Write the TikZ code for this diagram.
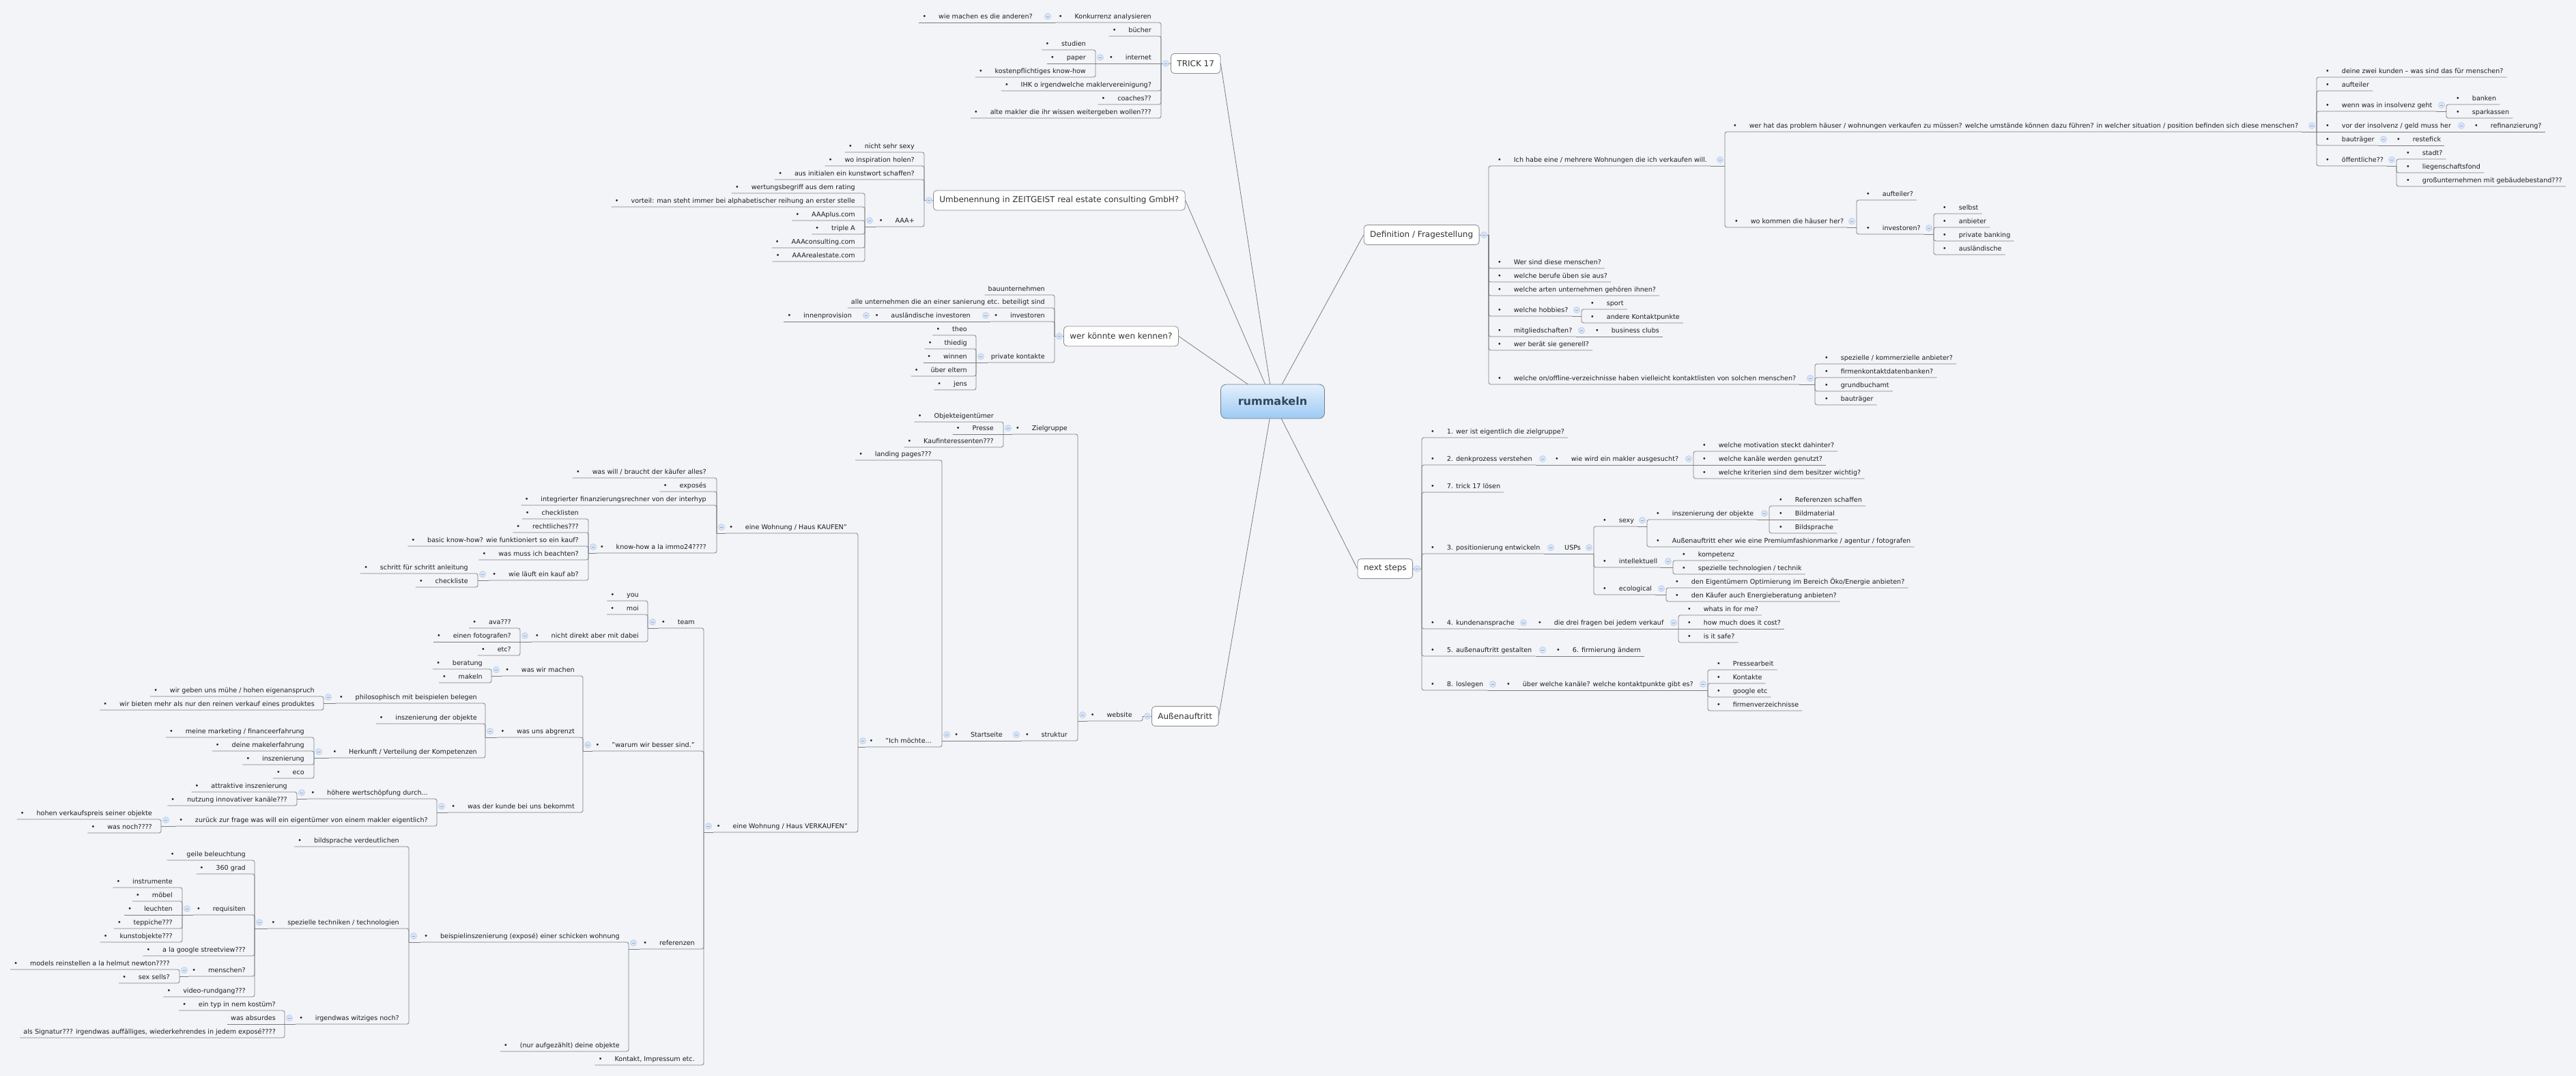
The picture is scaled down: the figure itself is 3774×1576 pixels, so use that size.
\documentclass[tikz,border=0pt]{standalone}
\usepackage{fontspec}
\setmainfont{DejaVu Sans}
\definecolor{paper}{HTML}{F2F4F8}
\definecolor{linegray}{HTML}{7D7D7D}
\definecolor{boxline}{HTML}{8A8A8A}
\definecolor{boxtext}{HTML}{333333}
\definecolor{itemtext}{HTML}{1E1E1E}
\definecolor{foldfill}{HTML}{D9E5F6}
\definecolor{foldline}{HTML}{B3C9E9}
\definecolor{foldmark}{HTML}{8AA7D6}
\definecolor{roottop}{HTML}{E4F0FC}
\definecolor{rootbottom}{HTML}{9CCAF4}
\definecolor{rootline}{HTML}{6F7F8F}
\definecolor{roottext}{HTML}{34465A}
\begin{document}
\begin{tikzpicture}[x=1pt, y=-1pt,
  spoke/.style={draw=linegray, line width=0.8pt},
  branch/.style={draw=linegray, line width=0.8pt, rounded corners=3pt},
  topic/.style={draw=boxline, fill=white, line width=0.8pt, rounded corners=5pt, font=\fontsize{12}{14}\selectfont, text=boxtext, minimum height=29pt, inner xsep=9pt},
  roottopic/.style={draw=rootline, line width=0.8pt, rounded corners=8pt, top color=roottop, bottom color=rootbottom, minimum width=152pt, minimum height=50pt, font=\fontsize{16}{19}\selectfont\bfseries, text=roottext},
  txt/.style={font=\fontsize{9.6}{11}\selectfont, text=itemtext, inner xsep=5pt, inner ysep=3pt, text height=7.5pt, text depth=2.5pt},
  bul/.style={txt, execute at begin node={\textbullet\hspace{18pt}}},
  litem/.style={bul, anchor=south east},
  ritem/.style={bul, anchor=south west},
  lplain/.style={txt, anchor=south east},
  rplain/.style={txt, anchor=south west},
  fold/.style={fill=foldfill, draw=foldline, line width=0.6pt},
  foldbar/.style={draw=foldmark, line width=0.8pt}]
  \fill[paper] (0,0) rectangle (3774,1576);
  \useasboundingbox (0,0) rectangle (3774,1576);

  \node[topic, anchor=west] (trick) at (1715,93) {TRICK 17};
  \node[topic, anchor=west] (umb) at (1367,293.5) {Umbenennung in ZEITGEIST real estate consulting GmbH?};
  \node[topic, anchor=west] (wer) at (1558,492.5) {wer könnte wen kennen?};
  \node[topic, anchor=west] (ausen) at (1687,1049) {Außenauftritt};
  \node[topic, anchor=east] (defi) at (2167.5,344) {Definition / Fragestellung};
  \node[topic, anchor=east] (next) at (2070,833) {next steps};
  \draw[spoke] (trick.east) -- (1864.5,588);
  \draw[spoke] (umb.east) -- (1864.5,588);
  \draw[spoke] (wer.east) -- (1864.5,588);
  \draw[spoke] (ausen.east) -- (1864.5,588);
  \draw[spoke] (defi.west) -- (1864.5,588);
  \draw[spoke] (next.west) -- (1864.5,588);
  \node[roottopic] (root) at (1864.5,588) {rummakeln};

  \node[litem] (konk) at (1692,33) {Konkurrenz analysieren};
  \node[litem] (andere) at (1518,33) {wie machen es die anderen?};
  \node[litem] (buecher) at (1692,53) {bücher};
  \node[litem] (internet) at (1692,93) {internet};
  \node[litem] (studien) at (1596,73) {studien};
  \node[litem] (paper) at (1596,93) {paper};
  \node[litem] (kosten) at (1596,113) {kostenpflichtiges know-how};
  \node[litem] (ihk) at (1692,133) {IHK o irgendwelche maklervereinigung?};
  \node[litem] (coaches) at (1692,153) {coaches??};
  \node[litem] (altemakler) at (1692,173) {alte makler die ihr wissen weitergeben wollen???};

  \node[litem] (sexy) at (1345,223) {nicht sehr sexy};
  \node[litem] (inspiration) at (1345,243) {wo inspiration holen?};
  \node[litem] (kunstwort) at (1345,263) {aus initialen ein kunstwort schaffen?};
  \node[litem] (aaa) at (1345,332) {AAA+};
  \node[litem] (wertung) at (1258,283) {wertungsbegriff aus dem rating};
  \node[litem] (vorteil) at (1258,303) {vorteil: man steht immer bei alphabetischer reihung an erster stelle};
  \node[litem] (aaaplus) at (1258,323) {AAAplus.com};
  \node[litem] (triplea) at (1258,343) {triple A};
  \node[litem] (aaacons) at (1258,363) {AAAconsulting.com};
  \node[litem] (aaareal) at (1258,383) {AAArealestate.com};

  \node[lplain] (bau) at (1536,432) {bauunternehmen};
  \node[lplain] (alle) at (1536,451) {alle unternehmen die an einer sanierung etc. beteiligt sind};
  \node[litem] (investoren) at (1536,471) {investoren};
  \node[litem] (auslinv) at (1427,471) {ausländische investoren};
  \node[litem] (innen) at (1253,471) {innenprovision};
  \node[lplain] (private) at (1536,531) {private kontakte};
  \node[litem] (theo) at (1422,491) {theo};
  \node[litem] (thiedig) at (1422,511) {thiedig};
  \node[litem] (winnen) at (1422,531) {winnen};
  \node[litem] (ueber) at (1422,551) {über eltern};
  \node[litem] (jens) at (1422,571) {jens};

  \node[ritem] (ichhabe) at (2189,243) {Ich habe eine / mehrere Wohnungen die ich verkaufen will.};
  \node[ritem] (werhat) at (2534,193) {wer hat das problem häuser / wohnungen verkaufen zu müssen? welche umstände können dazu führen? in welcher situation / position befinden sich diese menschen?};
  \node[ritem] (zwei) at (3402,113) {deine zwei kunden -- was sind das für menschen?};
  \node[ritem] (aufteiler) at (3402,133) {aufteiler};
  \node[ritem] (wenn) at (3402,163) {wenn was in insolvenz geht};
  \node[ritem] (banken) at (3593,153) {banken};
  \node[ritem] (sparkassen) at (3593,173) {sparkassen};
  \node[ritem] (vor) at (3402,193) {vor der insolvenz / geld muss her};
  \node[ritem] (refinanz) at (3620,193) {refinanzierung?};
  \node[ritem] (bautraegerA) at (3402,213) {bauträger};
  \node[ritem] (restefick) at (3506,213) {restefick};
  \node[ritem] (oeff) at (3402,243) {öffentliche??};
  \node[ritem] (stadt) at (3520,233) {stadt?};
  \node[ritem] (liegen) at (3520,253) {liegenschaftsfond};
  \node[ritem] (gross) at (3520,273) {großunternehmen mit gebäudebestand???};
  \node[ritem] (wokommen) at (2536,333) {wo kommen die häuser her?};
  \node[ritem] (aufteilerB) at (2729,293) {aufteiler?};
  \node[ritem] (investorenB) at (2729,343) {investoren?};
  \node[ritem] (selbst) at (2841,313) {selbst};
  \node[ritem] (anbieter) at (2841,333) {anbieter};
  \node[ritem] (privbank) at (2841,353) {private banking};
  \node[ritem] (auslaendisch) at (2841,373) {ausländische};
  \node[ritem] (wersind) at (2189,393) {Wer sind diese menschen?};
  \node[ritem] (berufe) at (2189,413) {welche berufe üben sie aus?};
  \node[ritem] (arten) at (2189,433) {welche arten unternehmen gehören ihnen?};
  \node[ritem] (hobbies) at (2189,463) {welche hobbies?};
  \node[ritem] (sport) at (2325,453) {sport};
  \node[ritem] (kontaktpunkte) at (2325,473) {andere Kontaktpunkte};
  \node[ritem] (mitglied) at (2189,493) {mitgliedschaften?};
  \node[ritem] (clubs) at (2332,493) {business clubs};
  \node[ritem] (beraet) at (2189,513) {wer berät sie generell?};
  \node[ritem] (verzeichnis) at (2189,563) {welche on/offline-verzeichnisse haben vielleicht kontaktlisten von solchen menschen?};
  \node[ritem] (kommerziell) at (2668,533) {spezielle / kommerzielle anbieter?};
  \node[ritem] (datenbanken) at (2668,553) {firmenkontaktdatenbanken?};
  \node[ritem] (grundbuch) at (2668,573) {grundbuchamt};
  \node[ritem] (bautraegerB) at (2668,593) {bauträger};

  \node[ritem] (eins) at (2091,641) {1. wer ist eigentlich die zielgruppe?};
  \node[ritem] (zweiN) at (2091,681) {2. denkprozess verstehen};
  \node[ritem] (makler) at (2273,681) {wie wird ein makler ausgesucht?};
  \node[ritem] (motivation) at (2489,661) {welche motivation steckt dahinter?};
  \node[ritem] (kanaele) at (2489,681) {welche kanäle werden genutzt?};
  \node[ritem] (kriterien) at (2489,701) {welche kriterien sind dem besitzer wichtig?};
  \node[ritem] (sieben) at (2091,721) {7. trick 17 lösen};
  \node[ritem] (dreiN) at (2091,811) {3. positionierung entwickeln};
  \node[rplain] (usps) at (2287,811) {USPs};
  \node[ritem] (sexyB) at (2343,771) {sexy};
  \node[ritem] (inszenierung) at (2421,761) {inszenierung der objekte};
  \node[ritem] (referenzenS) at (2601,741) {Referenzen schaffen};
  \node[ritem] (bildmaterial) at (2601,761) {Bildmaterial};
  \node[ritem] (bildsprache) at (2601,781) {Bildsprache};
  \node[ritem] (premium) at (2421,801) {Außenauftritt eher wie eine Premiumfashionmarke / agentur / fotografen};
  \node[ritem] (intellektuell) at (2343,831) {intellektuell};
  \node[ritem] (kompetenz) at (2459,821) {kompetenz};
  \node[ritem] (technik) at (2459,841) {spezielle technologien / technik};
  \node[ritem] (ecological) at (2343,871) {ecological};
  \node[ritem] (eigentuemer) at (2449,861) {den Eigentümern Optimierung im Bereich Öko/Energie anbieten?};
  \node[ritem] (energie) at (2449,881) {den Käufer auch Energieberatung anbieten?};
  \node[ritem] (vierN) at (2091,921) {4. kundenansprache};
  \node[ritem] (dreifragen) at (2248,921) {die drei fragen bei jedem verkauf};
  \node[ritem] (whats) at (2467,901) {whats in for me?};
  \node[ritem] (howmuch) at (2467,921) {how much does it cost?};
  \node[ritem] (safe) at (2467,941) {is it safe?};
  \node[ritem] (fuenfN) at (2091,961) {5. außenauftritt gestalten};
  \node[ritem] (sechsN) at (2275,961) {6. firmierung ändern};
  \node[ritem] (achtN) at (2091,1011) {8. loslegen};
  \node[ritem] (kanaeleB) at (2202,1011) {über welche kanäle? welche kontaktpunkte gibt es?};
  \node[ritem] (pressearbeit) at (2510,981) {Pressearbeit};
  \node[ritem] (kontakte) at (2510,1001) {Kontakte};
  \node[ritem] (google) at (2510,1021) {google etc};
  \node[ritem] (firmenverz) at (2510,1041) {firmenverzeichnisse};

  \node[litem] (website) at (1664,1056) {website};
  \node[litem] (zielgruppe) at (1569,636) {Zielgruppe};
  \node[litem] (objekt) at (1461,618) {Objekteigentümer};
  \node[litem] (presse) at (1461,636) {Presse};
  \node[litem] (kaufint) at (1461,655) {Kaufinteressenten???};
  \node[litem] (struktur) at (1569,1085) {struktur};
  \node[litem] (startseite) at (1474,1085) {Startseite};
  \node[litem] (landing) at (1370,674) {landing pages???};
  \node[litem] (moechte) at (1370,1094) {"Ich möchte...};
  \node[litem] (kaufen) at (1246,781) {eine Wohnung / Haus KAUFEN"};
  \node[litem] (kaeuferwill) at (1040,700) {was will / braucht der käufer alles?};
  \node[litem] (exposes) at (1040,720) {exposés};
  \node[litem] (interhyp) at (1040,740) {integrierter finanzierungsrechner von der interhyp};
  \node[litem] (knowhow) at (1040,810) {know-how a la immo24????};
  \node[litem] (checklisten) at (853,760) {checklisten};
  \node[litem] (rechtliches) at (853,780) {rechtliches???};
  \node[litem] (basic) at (853,800) {basic know-how? wie funktioniert so ein kauf?};
  \node[litem] (beachten) at (853,820) {was muss ich beachten?};
  \node[litem] (ablauf) at (853,850) {wie läuft ein kauf ab?};
  \node[litem] (anleitung) at (691,840) {schritt für schritt anleitung};
  \node[litem] (checkliste) at (691,860) {checkliste};
  \node[litem] (verkaufen) at (1247,1219) {eine Wohnung / Haus VERKAUFEN"};
  \node[litem] (team) at (1023,920) {team};
  \node[litem] (you) at (941,880) {you};
  \node[litem] (moi) at (941,900) {moi};
  \node[litem] (nichtdirekt) at (941,940) {nicht direkt aber mit dabei};
  \node[litem] (ava) at (754,920) {ava???};
  \node[litem] (fotograf) at (754,940) {einen fotografen?};
  \node[litem] (etc) at (754,960) {etc?};
  \node[litem] (besser) at (1023,1100) {"warum wir besser sind."};
  \node[litem] (wirmachen) at (847,990) {was wir machen};
  \node[litem] (beratung) at (712,980) {beratung};
  \node[litem] (makeln) at (712,1000) {makeln};
  \node[litem] (abgrenzt) at (847,1080) {was uns abgrenzt};
  \node[litem] (philo) at (704,1030) {philosophisch mit beispielen belegen};
  \node[litem] (muehe) at (466,1020) {wir geben uns mühe / hohen eigenanspruch};
  \node[litem] (mehr) at (466,1040) {wir bieten mehr als nur den reinen verkauf eines produktes};
  \node[litem] (objekteB) at (704,1060) {inszenierung der objekte};
  \node[litem] (herkunft) at (704,1110) {Herkunft / Verteilung der Kompetenzen};
  \node[litem] (marketing) at (451,1080) {meine marketing / financeerfahrung};
  \node[litem] (makelerf) at (451,1100) {deine makelerfahrung};
  \node[litem] (inszB) at (451,1120) {inszenierung};
  \node[litem] (eco) at (451,1140) {eco};
  \node[litem] (kunde) at (847,1190) {was der kunde bei uns bekommt};
  \node[litem] (wertschoepfung) at (632,1170) {höhere wertschöpfung durch...};
  \node[litem] (attraktiv) at (426,1160) {attraktive inszenierung};
  \node[litem] (innovativ) at (426,1180) {nutzung innovativer kanäle???};
  \node[litem] (zurueck) at (632,1210) {zurück zur frage was will ein eigentümer von einem makler eigentlich?};
  \node[litem] (verkaufspreis) at (228,1200) {hohen verkaufspreis seiner objekte};
  \node[litem] (wasnoch) at (228,1220) {was noch????};
  \node[litem] (referenzen) at (1023,1390) {referenzen};
  \node[litem] (beispiel) at (913,1380) {beispielinszenierung (exposé) einer schicken wohnung};
  \node[litem] (bildspracheB) at (590,1240) {bildsprache verdeutlichen};
  \node[litem] (techniken) at (590,1360) {spezielle techniken / technologien};
  \node[litem] (beleuchtung) at (365,1260) {geile beleuchtung};
  \node[litem] (grad) at (365,1280) {360 grad};
  \node[litem] (requisiten) at (365,1340) {requisiten};
  \node[litem] (instrumente) at (258,1300) {instrumente};
  \node[litem] (moebel) at (258,1320) {möbel};
  \node[litem] (leuchten) at (258,1340) {leuchten};
  \node[litem] (teppiche) at (258,1360) {teppiche???};
  \node[litem] (kunstobjekte) at (258,1380) {kunstobjekte???};
  \node[litem] (streetview) at (365,1400) {a la google streetview???};
  \node[litem] (menschen) at (365,1430) {menschen?};
  \node[litem] (models) at (254,1420) {models reinstellen a la helmut newton????};
  \node[litem] (sexsells) at (254,1440) {sex sells?};
  \node[litem] (video) at (365,1460) {video-rundgang???};
  \node[litem] (witzig) at (590,1500) {irgendwas witziges noch?};
  \node[litem] (kostuem) at (409,1480) {ein typ in nem kostüm?};
  \node[lplain] (absurd) at (409,1500) {was absurdes};
  \node[lplain] (signatur) at (409,1520) {als Signatur??? irgendwas auffälliges, wiederkehrendes in jedem exposé????};
  \node[litem] (aufgezaehlt) at (913,1540) {(nur aufgezählt) deine objekte};
  \node[litem] (impressum) at (1023,1560) {Kontakt, Impressum etc.};

  \coordinate (trick-c) at (1701,93);
  \coordinate (umb-c) at (1354,293.5);
  \coordinate (wer-c) at (1545,492.5);
  \coordinate (ausen-c) at (1674,1049);
  \coordinate (defi-c) at (2181,344);
  \coordinate (next-c) at (2083,833);
  \coordinate (konk-c) at (1528,33);
  \coordinate (internet-c) at (1605,93);
  \coordinate (aaa-c) at (1267,332);
  \coordinate (investoren-c) at (1437,471);
  \coordinate (auslinv-c) at (1262,471);
  \coordinate (private-c) at (1430,531);
  \coordinate (ichhabe-c) at (2527,243);
  \coordinate (werhat-c) at (3394,193);
  \coordinate (wenn-c) at (3584,163);
  \coordinate (vor-c) at (3613,193);
  \coordinate (bautraegerA-c) at (3499,213);
  \coordinate (oeff-c) at (3511,243);
  \coordinate (wokommen-c) at (2720,333);
  \coordinate (investorenB-c) at (2833,343);
  \coordinate (hobbies-c) at (2317,463);
  \coordinate (mitglied-c) at (2324,493);
  \coordinate (verzeichnis-c) at (2659,563);
  \coordinate (zweiN-c) at (2267,681);
  \coordinate (makler-c) at (2481,681);
  \coordinate (dreiN-c) at (2279,811);
  \coordinate (usps-c) at (2335,811);
  \coordinate (sexyB-c) at (2413,771);
  \coordinate (inszenierung-c) at (2592,761);
  \coordinate (intellektuell-c) at (2451,831);
  \coordinate (ecological-c) at (2441,871);
  \coordinate (vierN-c) at (2239,921);
  \coordinate (dreifragen-c) at (2459,921);
  \coordinate (fuenfN-c) at (2267,961);
  \coordinate (achtN-c) at (2194,1011);
  \coordinate (kanaeleB-c) at (2502,1011);
  \coordinate (website-c) at (1579,1056);
  \coordinate (zielgruppe-c) at (1470,636);
  \coordinate (struktur-c) at (1482,1085);
  \coordinate (startseite-c) at (1380,1085);
  \coordinate (moechte-c) at (1257,1094);
  \coordinate (kaufen-c) at (1050,781);
  \coordinate (knowhow-c) at (862,810);
  \coordinate (ablauf-c) at (700,850);
  \coordinate (verkaufen-c) at (1031,1219);
  \coordinate (team-c) at (949,920);
  \coordinate (nichtdirekt-c) at (762,940);
  \coordinate (besser-c) at (854,1100);
  \coordinate (wirmachen-c) at (720,990);
  \coordinate (abgrenzt-c) at (711,1080);
  \coordinate (philo-c) at (474,1030);
  \coordinate (herkunft-c) at (460,1110);
  \coordinate (kunde-c) at (640,1190);
  \coordinate (wertschoepfung-c) at (435,1170);
  \coordinate (zurueck-c) at (236,1210);
  \coordinate (referenzen-c) at (921,1390);
  \coordinate (beispiel-c) at (599,1380);
  \coordinate (techniken-c) at (373,1360);
  \coordinate (requisiten-c) at (267,1340);
  \coordinate (menschen-c) at (263,1430);
  \coordinate (witzig-c) at (417,1500);

  \foreach \b/\k in {trick/{konk,buecher,ihk,coaches,altemakler}, umb/{sexy,inspiration,kunstwort,aaa}, wer/{bau,alle,investoren,private}, ausen/{website}}{
    \draw[branch] (\b.west) -- (\b-c);
    \foreach \c in \k \draw[branch] (\b-c) |- (\c.south west);
  }
  \draw[branch] (trick-c) -- (internet.south west);
  \foreach \b/\k in {defi/{ichhabe,wersind,berufe,arten,hobbies,mitglied,beraet,verzeichnis}, next/{eins,zweiN,sieben,dreiN,vierN,fuenfN,achtN}}{
    \draw[branch] (\b.east) -- (\b-c);
    \foreach \c in \k \draw[branch] (\b-c) |- (\c.south east);
  }

  \foreach \p/\k in {internet/{studien,kosten}, aaa/{wertung,vorteil,aaaplus,triplea,aaacons,aaareal}, private/{theo,thiedig,ueber,jens},
      website/{zielgruppe,struktur}, zielgruppe/{objekt,kaufint}, startseite/{landing,moechte}, moechte/{kaufen,verkaufen},
      kaufen/{kaeuferwill,exposes,interhyp,knowhow}, knowhow/{checklisten,rechtliches,basic,beachten,ablauf}, ablauf/{anleitung,checkliste},
      verkaufen/{team,besser,referenzen,impressum}, team/{you,moi,nichtdirekt}, nichtdirekt/{ava,etc}, besser/{wirmachen,abgrenzt,kunde},
      wirmachen/{beratung,makeln}, abgrenzt/{philo,objekteB,herkunft}, philo/{muehe,mehr}, herkunft/{marketing,makelerf,inszB,eco},
      kunde/{wertschoepfung,zurueck}, wertschoepfung/{attraktiv,innovativ}, zurueck/{verkaufspreis,wasnoch}, referenzen/{beispiel,aufgezaehlt},
      beispiel/{bildspracheB,techniken,witzig}, techniken/{beleuchtung,grad,requisiten,streetview,menschen,video},
      requisiten/{instrumente,moebel,teppiche,kunstobjekte}, menschen/{models,sexsells}, witzig/{kostuem,signatur}}{
    \draw[branch] (\p.south west) -- (\p-c);
    \foreach \c in \k \draw[branch] (\p-c) |- (\c.south west);
  }
  \foreach \p/\c in {konk/andere, internet/paper, investoren/innen, private/winnen, zielgruppe/presse, struktur/startseite, nichtdirekt/fotograf, requisiten/leuchten, witzig/absurd}
    \draw[branch] (\p.south west) -- (\c.south west);

  \foreach \p/\k in {ichhabe/{werhat,wokommen}, werhat/{zwei,aufteiler,wenn,bautraegerA,oeff}, wenn/{banken,sparkassen}, oeff/{stadt,liegen,gross},
      wokommen/{aufteilerB,investorenB}, investorenB/{selbst,anbieter,privbank,auslaendisch}, hobbies/{sport,kontaktpunkte},
      verzeichnis/{kommerziell,datenbanken,grundbuch,bautraegerB}, makler/{motivation,kriterien}, usps/{sexyB,intellektuell,ecological},
      sexyB/{inszenierung,premium}, inszenierung/{referenzenS,bildsprache}, intellektuell/{kompetenz,technik}, ecological/{eigentuemer,energie},
      dreifragen/{whats,safe}, kanaeleB/{pressearbeit,kontakte,google,firmenverz}}{
    \draw[branch] (\p.south east) -- (\p-c);
    \foreach \c in \k \draw[branch] (\p-c) |- (\c.south east);
  }
  \foreach \p/\c in {werhat/refinanz, bautraegerA/restefick, mitglied/clubs, zweiN/kanaele, dreiN/usps, inszenierung/bildmaterial, vierN/howmuch, fuenfN/sechsN, achtN/kanaeleB}
    \draw[branch] (\p.south east) -- (\c.south east);

  \foreach \p in {trick,umb,wer,ausen}{
    \filldraw[fold] ([xshift=7pt]\p-c) circle[radius=4.5pt];
    \draw[foldbar] ([xshift=5pt]\p-c) -- ++(4pt,0);
  }
  \foreach \p in {defi,next}{
    \filldraw[fold] ([xshift=-7pt]\p-c) circle[radius=4.5pt];
    \draw[foldbar] ([xshift=-9pt]\p-c) -- ++(4pt,0);
  }
  \foreach \p in {konk,internet,aaa,investoren,auslinv,private,website,zielgruppe,struktur,startseite,moechte,kaufen,knowhow,ablauf,verkaufen,team,nichtdirekt,besser,wirmachen,abgrenzt,philo,herkunft,kunde,wertschoepfung,zurueck,referenzen,beispiel,techniken,requisiten,menschen,witzig}{
    \filldraw[fold] ([xshift=7pt,yshift=9pt]\p-c) circle[radius=4.5pt];
    \draw[foldbar] ([xshift=5pt,yshift=9pt]\p-c) -- ++(4pt,0);
  }
  \foreach \p in {ichhabe,werhat,wenn,vor,bautraegerA,oeff,wokommen,investorenB,hobbies,mitglied,verzeichnis,zweiN,makler,dreiN,usps,sexyB,inszenierung,intellektuell,ecological,vierN,dreifragen,fuenfN,achtN,kanaeleB}{
    \filldraw[fold] ([xshift=-7pt,yshift=9pt]\p-c) circle[radius=4.5pt];
    \draw[foldbar] ([xshift=-9pt,yshift=9pt]\p-c) -- ++(4pt,0);
  }
\end{tikzpicture}
\end{document}
